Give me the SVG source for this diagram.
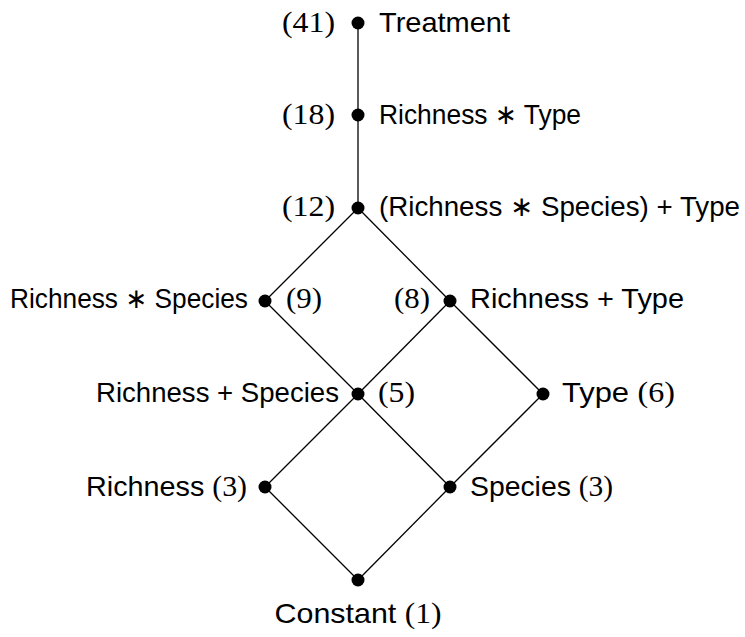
<svg xmlns="http://www.w3.org/2000/svg" width="745" height="637" viewBox="0 0 745 637">
  <style>
    .edge { stroke: #000; stroke-width: 1.3; fill: none; }
    .dot { fill: #000; }
    .lab { font-family: "Liberation Sans", "DejaVu Sans", sans-serif; font-size: 28px; fill: #000; }
    .num { font-family: "Liberation Serif", "DejaVu Serif", serif; font-size: 29px; fill: #000; }
  </style>
  <rect width="745" height="637" fill="#fff"/>

  <!-- lattice edges -->
  <g id="edges">
    <line class="edge" x1="358" y1="23" x2="358" y2="115"/>
    <line class="edge" x1="358" y1="115" x2="358" y2="208"/>
    <line class="edge" x1="358" y1="208" x2="265" y2="301"/>
    <line class="edge" x1="358" y1="208" x2="450" y2="301"/>
    <line class="edge" x1="265" y1="301" x2="358" y2="394"/>
    <line class="edge" x1="450" y1="301" x2="358" y2="394"/>
    <line class="edge" x1="450" y1="301" x2="543" y2="394"/>
    <line class="edge" x1="358" y1="394" x2="265" y2="487"/>
    <line class="edge" x1="358" y1="394" x2="450" y2="487"/>
    <line class="edge" x1="543" y1="394" x2="450" y2="487"/>
    <line class="edge" x1="265" y1="487" x2="358" y2="580"/>
    <line class="edge" x1="450" y1="487" x2="358" y2="580"/>
  </g>

  <g id="treatment">
    <circle class="dot" cx="358" cy="23" r="6.5"/>
    <text class="num" x="335" y="32" text-anchor="end" textLength="53" lengthAdjust="spacingAndGlyphs">(41)</text>
    <text class="lab" x="379" y="32" textLength="131" lengthAdjust="spacingAndGlyphs">Treatment</text>
  </g>

  <g id="richness-x-type">
    <circle class="dot" cx="358" cy="115" r="6.5"/>
    <text class="num" x="335" y="124" text-anchor="end" textLength="53" lengthAdjust="spacingAndGlyphs">(18)</text>
    <text class="lab" x="379" y="124" textLength="202" lengthAdjust="spacingAndGlyphs">Richness ∗ Type</text>
  </g>

  <g id="richness-x-species-plus-type">
    <circle class="dot" cx="358" cy="208" r="6.5"/>
    <text class="num" x="335" y="216" text-anchor="end" textLength="53" lengthAdjust="spacingAndGlyphs">(12)</text>
    <text class="lab" x="379" y="216" textLength="361" lengthAdjust="spacingAndGlyphs">(Richness ∗ Species) + Type</text>
  </g>

  <g id="richness-x-species">
    <circle class="dot" cx="265" cy="301" r="6.5"/>
    <text class="lab" x="248" y="308" text-anchor="end" textLength="238" lengthAdjust="spacingAndGlyphs">Richness ∗ Species</text>
    <text class="num" x="286" y="308" textLength="36" lengthAdjust="spacingAndGlyphs">(9)</text>
  </g>

  <g id="richness-plus-type">
    <circle class="dot" cx="450" cy="301" r="6.5"/>
    <text class="num" x="430" y="308" text-anchor="end" textLength="36" lengthAdjust="spacingAndGlyphs">(8)</text>
    <text class="lab" x="470" y="308" textLength="214" lengthAdjust="spacingAndGlyphs">Richness + Type</text>
  </g>

  <g id="richness-plus-species">
    <circle class="dot" cx="358" cy="394" r="6.5"/>
    <text class="lab" x="339" y="402" text-anchor="end" textLength="243" lengthAdjust="spacingAndGlyphs">Richness + Species</text>
    <text class="num" x="378" y="402" textLength="37" lengthAdjust="spacingAndGlyphs">(5)</text>
  </g>

  <g id="type">
    <circle class="dot" cx="543" cy="394" r="6.5"/>
    <text x="562" y="402" textLength="113" lengthAdjust="spacingAndGlyphs"><tspan class="lab">Type </tspan><tspan class="num">(6)</tspan></text>
  </g>

  <g id="richness">
    <circle class="dot" cx="265" cy="487" r="6.5"/>
    <text x="247" y="496" text-anchor="end" textLength="161" lengthAdjust="spacingAndGlyphs"><tspan class="lab">Richness </tspan><tspan class="num">(3)</tspan></text>
  </g>

  <g id="species">
    <circle class="dot" cx="450" cy="487" r="6.5"/>
    <text x="470" y="496" textLength="143" lengthAdjust="spacingAndGlyphs"><tspan class="lab">Species </tspan><tspan class="num">(3)</tspan></text>
  </g>

  <g id="constant">
    <circle class="dot" cx="358" cy="580" r="6.5"/>
    <text x="358" y="623" text-anchor="middle" textLength="167" lengthAdjust="spacingAndGlyphs"><tspan class="lab">Constant </tspan><tspan class="num">(1)</tspan></text>
  </g>
</svg>
